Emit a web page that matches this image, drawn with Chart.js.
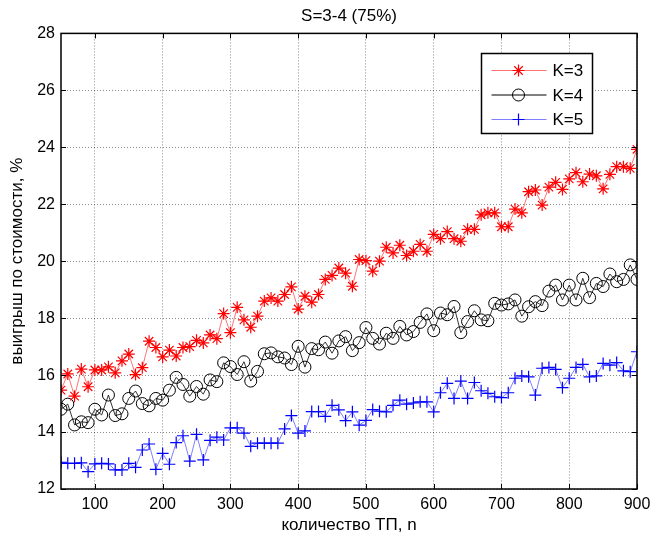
<!DOCTYPE html>
<html lang="ru">
<head>
<meta charset="utf-8">
<title>S=3-4 (75%)</title>
<script src="https://cdn.jsdelivr.net/npm/chart.js@4.4.0/dist/chart.umd.min.js"></script>
<style>
  body { margin: 0; background: #fff; }
  #wrap { width: 652px; height: 537px; }
</style>
</head>
<body>
<div id="wrap"><canvas id="myChart" width="652" height="537"></canvas></div>
<script>
// количество ТП, n
var nValues = [50, 60, 70, 80, 90, 100, 110, 120, 130, 140, 150, 160, 170, 180, 190, 200,
  210, 220, 230, 240, 250, 260, 270, 280, 290, 300, 310, 320, 330, 340, 350, 360, 370, 380,
  390, 400, 410, 420, 430, 440, 450, 460, 470, 480, 490, 500, 510, 520, 530, 540, 550, 560,
  570, 580, 590, 600, 610, 620, 630, 640, 650, 660, 670, 680, 690, 700, 710, 720, 730, 740,
  750, 760, 770, 780, 790, 800, 810, 820, 830, 840, 850, 860, 870, 880, 890, 900];

// выигрыш по стоимости, %
var k3 = [15.47, 16.04, 15.26, 16.21, 15.59, 16.18, 16.18, 16.29, 16.08, 16.5, 16.74, 16.02,
  16.26, 17.19, 16.97, 16.64, 16.88, 16.67, 16.97, 17.0, 17.22, 17.13, 17.41, 17.28, 18.16,
  17.49, 18.38, 17.94, 17.68, 18.07, 18.6, 18.71, 18.6, 18.83, 19.1, 18.32, 18.77, 18.56,
  18.83, 19.36, 19.5, 19.76, 19.58, 19.12, 20.06, 20.02, 19.65, 20.0, 20.49, 20.29, 20.56,
  20.2, 20.35, 20.59, 20.35, 20.94, 20.79, 21.04, 20.79, 20.7, 21.12, 21.12, 21.63, 21.7,
  21.7, 21.21, 21.21, 21.83, 21.7, 22.44, 22.5, 21.97, 22.6, 22.77, 22.52, 22.89, 23.11,
  22.79, 23.06, 23.0, 22.54, 23.05, 23.32, 23.32, 23.26, 23.93];

var k4 = [14.8, 14.98, 14.25, 14.36, 14.33, 14.8, 14.6, 15.3, 14.58, 14.64, 15.18, 15.44,
  15.0, 14.92, 15.18, 15.12, 15.47, 15.92, 15.67, 15.26, 15.6, 15.33, 15.83, 15.77, 16.43,
  16.3, 16.02, 16.47, 15.79, 16.13, 16.75, 16.78, 16.64, 16.6, 16.37, 17.01, 16.28, 16.93,
  16.89, 17.16, 16.77, 17.2, 17.35, 16.86, 17.14, 17.67, 17.29, 17.09, 17.47, 17.29, 17.71,
  17.41, 17.53, 17.85, 18.15, 17.56, 18.18, 18.12, 18.41, 17.49, 17.88, 18.26, 17.94, 17.91,
  18.52, 18.46, 18.5, 18.64, 18.07, 18.4, 18.58, 18.44, 18.95, 19.16, 18.64, 19.16, 18.64,
  19.4, 18.72, 19.22, 19.11, 19.55, 19.28, 19.36, 19.87, 19.36];

var k5 = [12.94, 12.9, 12.9, 12.92, 12.61, 12.88, 12.9, 12.88, 12.67, 12.67, 12.9, 12.76,
  13.37, 13.58, 12.69, 13.25, 12.87, 13.63, 13.87, 12.98, 13.92, 13.02, 13.71, 13.82, 13.72,
  14.15, 14.15, 13.96, 13.5, 13.61, 13.61, 13.61, 13.61, 14.11, 14.58, 13.96, 14.04, 14.72,
  14.72, 14.55, 14.94, 14.78, 14.4, 14.71, 14.24, 14.41, 14.79, 14.73, 14.71, 14.94, 15.12,
  14.98, 15.02, 15.06, 15.06, 14.71, 15.38, 15.71, 15.18, 15.79, 15.18, 15.74, 15.45, 15.36,
  15.24, 15.21, 15.38, 15.89, 15.97, 15.94, 15.3, 16.24, 16.27, 16.2, 15.56, 15.89, 16.27,
  16.38, 15.94, 15.97, 16.41, 16.35, 16.44, 16.15, 16.12, 16.82];

var seriesNames = ['K=3', 'K=4', 'K=5'];
var xTicks = [100, 200, 300, 400, 500, 600, 700, 800, 900];
var yTicks = [12, 14, 16, 18, 20, 22, 24, 26, 28];

var FONT = '"Liberation Sans", Arial, Helvetica, sans-serif';

function toPoints(vals) {
  return vals.map(function (v, i) { return { x: nValues[i], y: v }; });
}

// рамка, внутренние засечки и легенда в стиле MATLAB
var framePlugin = {
  id: 'frame',
  afterDatasetsDraw: function (chart) {
    var ctx = chart.ctx, a = chart.chartArea;
    var xs = chart.scales.x, ys = chart.scales.y;
    ctx.save();
    ctx.strokeStyle = '#000';
    ctx.lineWidth = 1;
    ctx.beginPath();
    xTicks.forEach(function (v) {
      var px = Math.round(xs.getPixelForValue(v)) + 0.5;
      ctx.moveTo(px, a.bottom); ctx.lineTo(px, a.bottom - 5);
      ctx.moveTo(px, a.top); ctx.lineTo(px, a.top + 5);
    });
    yTicks.forEach(function (v) {
      var py = Math.round(ys.getPixelForValue(v)) + 0.5;
      ctx.moveTo(a.left, py); ctx.lineTo(a.left + 5, py);
      ctx.moveTo(a.right, py); ctx.lineTo(a.right - 5, py);
    });
    ctx.stroke();
    ctx.lineWidth = 1.5;
    ctx.strokeRect(a.left, a.top, a.right - a.left, a.bottom - a.top);

    // легенда
    var bx = Math.round(a.right - 156) + 0.5, by = Math.round(a.top + 20) + 0.5;
    var bw = 111, bh = 80;
    ctx.fillStyle = '#fff';
    ctx.fillRect(bx, by, bw, bh);
    ctx.lineWidth = 1.5;
    ctx.strokeStyle = '#000';
    ctx.strokeRect(bx, by, bw, bh);
    ctx.font = '17px ' + FONT;
    ctx.textBaseline = 'middle';
    ctx.textAlign = 'left';
    chart.data.datasets.forEach(function (ds, i) {
      var ry = by + 17 + i * 24.5;
      ctx.strokeStyle = ds.borderColor;
      ctx.lineWidth = 1;
      ctx.beginPath();
      ctx.moveTo(bx + 10, ry); ctx.lineTo(bx + 65, ry);
      ctx.stroke();
      ctx.strokeStyle = ds.pointBorderColor;
      ctx.fillStyle = 'rgba(0,0,0,0)';
      ctx.lineWidth = ds.pointBorderWidth;
      Chart.helpers.drawPoint(ctx, {
        pointStyle: ds.pointStyle, radius: ds.pointRadius, rotation: 0, borderWidth: ds.pointBorderWidth
      }, bx + 37, ry);
      ctx.fillStyle = '#000';
      ctx.fillText(ds.label, bx + 71, ry + 1);
    });
    ctx.restore();
  }
};

var ctx = document.getElementById('myChart').getContext('2d');
var myChart = new Chart(ctx, {
  type: 'line',
  data: {
    datasets: [{
      label: seriesNames[0],
      data: toPoints(k3),
      borderColor: 'rgba(255,0,0,0.55)',
      borderWidth: 1,
      pointStyle: 'star',
      pointRadius: 6,
      pointBorderColor: '#ff0000',
      pointBackgroundColor: 'rgba(0,0,0,0)',
      pointBorderWidth: 1.2
    }, {
      label: seriesNames[1],
      data: toPoints(k4),
      borderColor: '#000',
      borderWidth: 0.8,
      pointStyle: 'circle',
      pointRadius: 6,
      pointBorderColor: '#000',
      pointBackgroundColor: 'rgba(0,0,0,0)',
      pointBorderWidth: 1
    }, {
      label: seriesNames[2],
      data: toPoints(k5),
      borderColor: 'rgba(0,0,255,0.5)',
      borderWidth: 1,
      pointStyle: 'cross',
      pointRadius: 6,
      pointBorderColor: '#0000ff',
      pointBackgroundColor: 'rgba(0,0,0,0)',
      pointBorderWidth: 1.2
    }]
  },
  options: {
    responsive: false,
    animation: false,
    layout: { padding: { left: 0, right: 15, top: 0, bottom: 0 } },
    plugins: {
      legend: { display: false },
      tooltip: { enabled: false },
      title: {
        display: true,
        fullSize: false,
        text: 'S=3-4 (75%)',
        color: '#000',
        font: { family: FONT, size: 17, weight: 'normal' },
        padding: { top: 6, bottom: 7 }
      }
    },
    scales: {
      x: {
        type: 'linear',
        min: 50,
        max: 900,
        afterBuildTicks: function (s) { s.ticks = xTicks.map(function (v) { return { value: v }; }); },
        afterFit: function (s) { s.height = 48; s.paddingLeft = 0; s.paddingRight = 0; },
        grid: { color: 'rgba(0,0,0,0.45)', drawTicks: false },
        border: { display: false, dash: [1, 2] },
        ticks: { padding: 6, color: '#000', maxRotation: 0, font: { family: FONT, size: 16 } },
        title: {
          display: true,
          text: 'количество ТП, n',
          color: '#000',
          font: { family: FONT, size: 17 },
          padding: { top: 0, bottom: 1 }
        }
      },
      y: {
        min: 12,
        max: 28,
        afterBuildTicks: function (s) { s.ticks = yTicks.map(function (v) { return { value: v }; }); },
        afterFit: function (s) { s.width = 61; },
        grid: { color: 'rgba(0,0,0,0.45)', drawTicks: false },
        border: { display: false, dash: [1, 2] },
        ticks: { padding: 6, color: '#000', font: { family: FONT, size: 16 } },
        title: {
          display: true,
          text: 'выигрыш по стоимости, %',
          color: '#000',
          font: { family: FONT, size: 17 },
          padding: { top: 7, bottom: 0 }
        }
      }
    }
  },
  plugins: [framePlugin]
});
</script>
</body>
</html>
